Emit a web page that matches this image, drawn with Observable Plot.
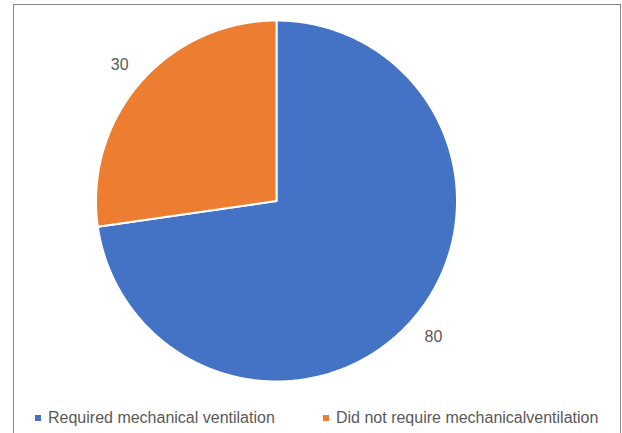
<!DOCTYPE html>
<html>
<head>
<meta charset="utf-8">
<script src="https://cdn.jsdelivr.net/npm/d3@7"></script>
<script src="https://cdn.jsdelivr.net/npm/@observablehq/plot@0.6"></script>
<style>
  body { margin: 0; background: #fff; }
  #frame { position: absolute; left: 13px; top: 4px; width: 608px; height: 440px;
           border: 1.5px solid #858585; border-bottom: none; box-sizing: border-box; }
  #chart { position: absolute; left: 0; top: 0; }
  .item { position: absolute; top: 408px; font-family: "Liberation Sans", Arial, sans-serif;
          font-size: 16px; color: #595959; white-space: nowrap; line-height: 20px; }
  .sw { display: inline-block; width: 6px; height: 6px; margin-right: 7px; vertical-align: 2px; }
</style>
</head>
<body>
<div id="frame"></div>
<div id="chart"></div>
<div id="legend"></div>
<script>
// Patient groups and counts
const groups = ["Required mechanical ventilation", "Did not require mechanicalventilation"];
const counts = [80, 30];
const colors = ["#4472C4", "#ED7D31"];

const rows = groups.map((g, i) => ({group: g, count: counts[i], color: colors[i]}));

// Slice angles, clockwise from 12 o'clock, in input order
const arcs = d3.pie().sort(null).value(d => d.count)(rows);

// Outline of each slice as a closed polygon in unit-circle coordinates
const outline = a => {
  const n = Math.max(8, Math.ceil((a.endAngle - a.startAngle) / 0.01));
  const pts = [{x: 0, y: 0}];
  for (let k = 0; k <= n; k++) {
    const t = a.startAngle + (a.endAngle - a.startAngle) * k / n;
    pts.push({x: Math.sin(t), y: Math.cos(t)});
  }
  pts.push({x: 0, y: 0});
  return pts;
};

// Value labels just outside each slice
const labelR = 1.15;
const labels = arcs.map(a => {
  const m = (a.startAngle + a.endAngle) / 2;
  return {x: labelR * Math.sin(m), y: labelR * Math.cos(m), text: String(a.data.count)};
});

const chart = Plot.plot({
  width: 622,
  height: 433,
  marginLeft: 95.5,
  marginRight: 165.5,
  marginTop: 20,
  marginBottom: 52,
  x: {domain: [-1, 1], axis: null},
  y: {domain: [-1, 1], axis: null},
  style: {background: "transparent", overflow: "visible"},
  marks: [
    ...arcs.map(a => Plot.line(outline(a), {
      x: "x", y: "y", fill: a.data.color, stroke: "#ffffff", strokeWidth: 2, curve: "linear"
    })),
    Plot.text(labels, {
      x: "x", y: "y", text: "text", fill: "#595959", fontSize: 16,
      fontFamily: "Liberation Sans, Arial, sans-serif"
    })
  ]
});
document.getElementById("chart").appendChild(chart);

// Legend
const legend = document.getElementById("legend");
const legendX = [35, 323];
rows.forEach((r, i) => {
  const el = document.createElement("div");
  el.className = "item";
  el.style.left = legendX[i] + "px";
  el.innerHTML = `<span class="sw" style="background:${r.color}"></span>${r.group}`;
  legend.appendChild(el);
});
</script>
</body>
</html>
